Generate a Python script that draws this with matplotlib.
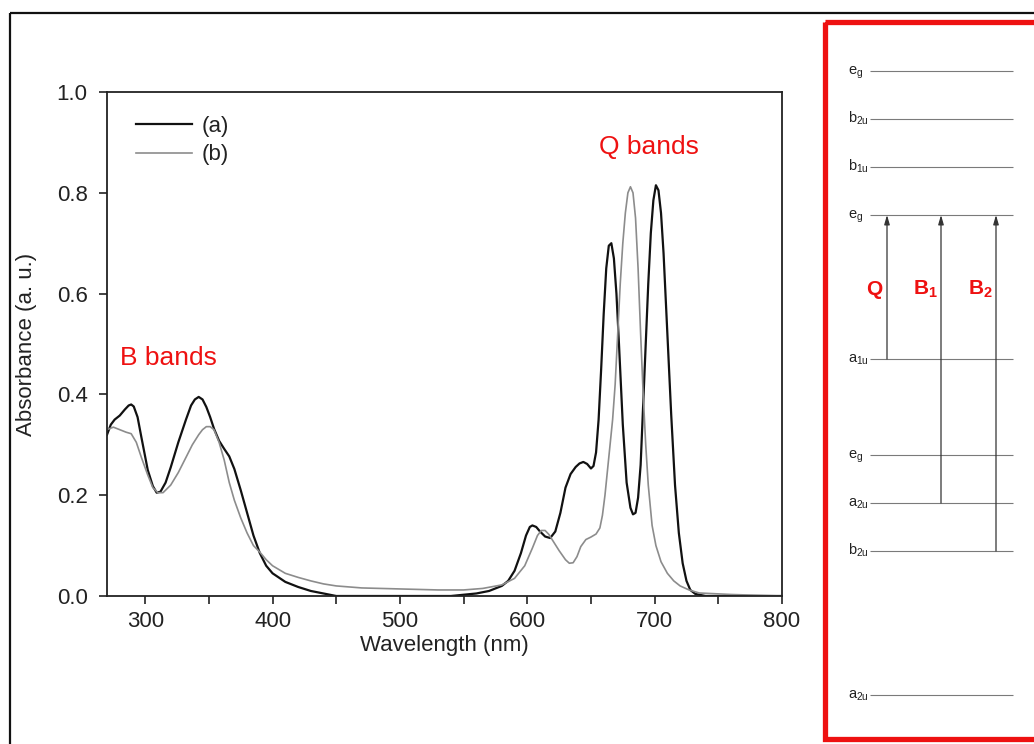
import matplotlib
matplotlib.use("Agg")
import matplotlib.pyplot as plt
from matplotlib.patches import Rectangle

plt.rcParams['font.family'] = ['Liberation Sans', 'DejaVu Sans']
plt.rcParams['mathtext.fontset'] = 'custom'
plt.rcParams['mathtext.rm'] = 'Liberation Sans'
plt.rcParams['mathtext.it'] = 'Liberation Sans:italic'
plt.rcParams['mathtext.bf'] = 'Liberation Sans:bold'

# ---------------- spectrum data ----------------
wl_a = [270, 273, 276, 280, 284, 287, 289, 291, 294, 297, 302, 306, 309, 312, 316,
        320, 326, 332, 336, 339, 342, 345, 348, 351, 354, 358, 362, 366, 370, 375,
        380, 385, 390, 395, 400, 410, 420, 430, 440, 450, 500, 540, 560, 570, 580,
        585, 590, 595, 599, 602, 604, 607, 610, 614, 618, 622, 626, 630, 634, 638,
        641, 644, 647, 650, 652, 654, 656, 658, 660, 662, 664, 666, 668, 670, 672,
        675, 678, 681, 683, 685, 687, 689, 692, 695, 697, 699, 701, 703, 705, 707,
        710, 713, 716, 719, 722, 725, 728, 732, 740, 800]
abs_a = [0.320, 0.340, 0.350, 0.358, 0.370, 0.378, 0.380, 0.376, 0.355, 0.315, 0.250,
         0.218, 0.205, 0.207, 0.225, 0.255, 0.305, 0.350, 0.378, 0.390, 0.395, 0.390,
         0.375, 0.355, 0.332, 0.308, 0.292, 0.277, 0.252, 0.210, 0.165, 0.120, 0.085,
         0.060, 0.045, 0.028, 0.018, 0.010, 0.005, 0.000, 0.000, 0.000, 0.005, 0.010,
         0.020, 0.030, 0.050, 0.085, 0.120, 0.137, 0.140, 0.137, 0.128, 0.118, 0.115,
         0.128, 0.165, 0.215, 0.242, 0.256, 0.263, 0.266, 0.262, 0.253, 0.258, 0.285,
         0.350, 0.450, 0.560, 0.650, 0.695, 0.700, 0.670, 0.600, 0.500, 0.340, 0.225,
         0.175, 0.162, 0.165, 0.195, 0.260, 0.440, 0.620, 0.720, 0.785, 0.815, 0.805,
         0.760, 0.680, 0.520, 0.360, 0.220, 0.125, 0.065, 0.030, 0.012, 0.004, 0.000,
         0.000]

wl_b = [270, 275, 280, 285, 289, 293, 297, 302, 306, 310, 314, 320, 326, 332, 337,
        342, 345, 348, 351, 354, 358, 362, 366, 370, 375, 380, 385, 390, 395, 400,
        410, 420, 430, 440, 450, 470, 500, 530, 550, 565, 580, 590, 598, 604, 608,
        611, 614, 617, 620, 625, 630, 633, 636, 639, 642, 646, 650, 654, 657, 659,
        661, 663, 665, 667, 669, 671, 673, 675, 677, 679, 681, 683, 685, 687, 689,
        691, 693, 695, 698, 701, 705, 710, 715, 720, 727, 735, 760, 800]
abs_b = [0.330, 0.335, 0.330, 0.325, 0.322, 0.305, 0.275, 0.240, 0.215, 0.205, 0.205,
         0.220, 0.245, 0.275, 0.300, 0.320, 0.330, 0.336, 0.336, 0.330, 0.305, 0.270,
         0.225, 0.190, 0.155, 0.125, 0.100, 0.087, 0.072, 0.060, 0.045, 0.037, 0.030,
         0.024, 0.020, 0.016, 0.014, 0.012, 0.012, 0.015, 0.022, 0.035, 0.060, 0.095,
         0.120, 0.130, 0.130, 0.122, 0.110, 0.090, 0.072, 0.065, 0.066, 0.078, 0.098,
         0.112, 0.117, 0.123, 0.135, 0.160, 0.200, 0.250, 0.300, 0.350, 0.420, 0.520,
         0.620, 0.700, 0.760, 0.800, 0.812, 0.800, 0.750, 0.650, 0.520, 0.400, 0.300,
         0.220, 0.140, 0.100, 0.068, 0.045, 0.030, 0.020, 0.012, 0.006, 0.003, 0.000]

series_labels = ['(a)', '(b)']
x_ticks = [300, 400, 500, 600, 700, 800]
y_ticks = [0.0, 0.2, 0.4, 0.6, 0.8, 1.0]

# ---------------- energy level diagram data ----------------
level_names = [r'$\mathregular{e_g}$', r'$\mathregular{b_{2u}}$', r'$\mathregular{b_{1u}}$',
               r'$\mathregular{e_g}$', r'$\mathregular{a_{1u}}$', r'$\mathregular{e_g}$',
               r'$\mathregular{a_{2u}}$', r'$\mathregular{b_{2u}}$', r'$\mathregular{a_{2u}}$']
level_energy = [13, 12, 11, 10, 7, 5, 4, 3, 0]
trans_labels = [r'$\mathbf{Q}$', r'$\mathbf{B_1}$', r'$\mathbf{B_2}$']
trans_from = [7, 4, 3]
trans_to = [10, 10, 10]

W, H = 1034, 744
fig = plt.figure(figsize=(W / 100, H / 100), dpi=100)
fig.patch.set_facecolor('white')

# overlay in pixel coordinates
ov = fig.add_axes([0, 0, 1, 1])
ov.set_xlim(0, W)
ov.set_ylim(H, 0)
ov.axis('off')
ov.add_patch(Rectangle((10, 13), 1100, 800, fill=False, edgecolor='#111111', lw=1.6))
ov.add_patch(Rectangle((824.5, 21.5), 300, 717, fill=False, edgecolor='#ee1111', lw=3.8))

def ey(e):
    return 695 - 48 * e

for name, e in zip(level_names, level_energy):
    y = ey(e)
    ov.plot([870, 1013], [y, y], color='#7a7a7a', lw=0.8, solid_capstyle='butt')
    ov.text(848, y + 4, name, fontsize=10.5, ha='left', va='baseline', color='#222222')

arrow_x = [887, 941, 996]
label_x = [875, 925, 980]
for ax_, lx, lab, e0, e1 in zip(arrow_x, label_x, trans_labels, trans_from, trans_to):
    ov.annotate('', xy=(ax_, ey(e1)), xytext=(ax_, ey(e0)),
                arrowprops=dict(arrowstyle='-|>,head_length=0.55,head_width=0.16',
                                color='#333333', lw=0.9, shrinkA=0, shrinkB=0))
    ov.text(lx, 295, lab, fontsize=15, ha='center', va='baseline', color='#ee1111')

# spectrum axes
ax = fig.add_axes([107 / W, 1 - 596 / H, (782 - 107) / W, (596 - 92) / H])
la, = ax.plot(wl_a, abs_a, color='#111111', lw=1.6, label=series_labels[0])
lb, = ax.plot(wl_b, abs_b, color='#8c8c8c', lw=1.2, label=series_labels[1])
ax.set_xlim(270, 800)
ax.set_ylim(0, 1.0)
ax.set_xticks(x_ticks)
ax.set_xticks([350, 450, 550, 650, 750], minor=True)
ax.set_yticks(y_ticks)
ax.set_xticklabels([str(v) for v in x_ticks])
ax.set_yticklabels(['%.1f' % v for v in y_ticks])
ax.tick_params(axis='both', which='both', direction='out', length=6, width=1.2,
               labelsize=16, labelcolor='#222222', color='#222222')
ax.tick_params(axis='x', pad=5)
ax.tick_params(axis='y', pad=8)
for s in ax.spines.values():
    s.set_linewidth(1.3)
    s.set_color('#222222')
ax.set_xlabel('Wavelength (nm)', fontsize=16, color='#222222')
ax.set_ylabel('Absorbance (a. u.)', fontsize=16, color='#222222')
ax.xaxis.set_label_coords(0.5, -0.077)
ax.yaxis.set_label_coords(-0.104, 0.5)

ax.text(280.5, 0.472, 'B bands', fontsize=19, color='#ee1111', ha='left', va='center')
ax.text(656, 0.891, 'Q bands', fontsize=19, color='#ee1111', ha='left', va='center')

leg = ax.legend(loc='upper left', bbox_to_anchor=(0.0430, 0.952), frameon=False,
                fontsize=16, handlelength=2.5, handletextpad=0.45, labelspacing=0.32,
                borderpad=0, borderaxespad=0)
for t in leg.get_texts():
    t.set_color('#222222')

fig.savefig('out.png', dpi=100, facecolor='white')
